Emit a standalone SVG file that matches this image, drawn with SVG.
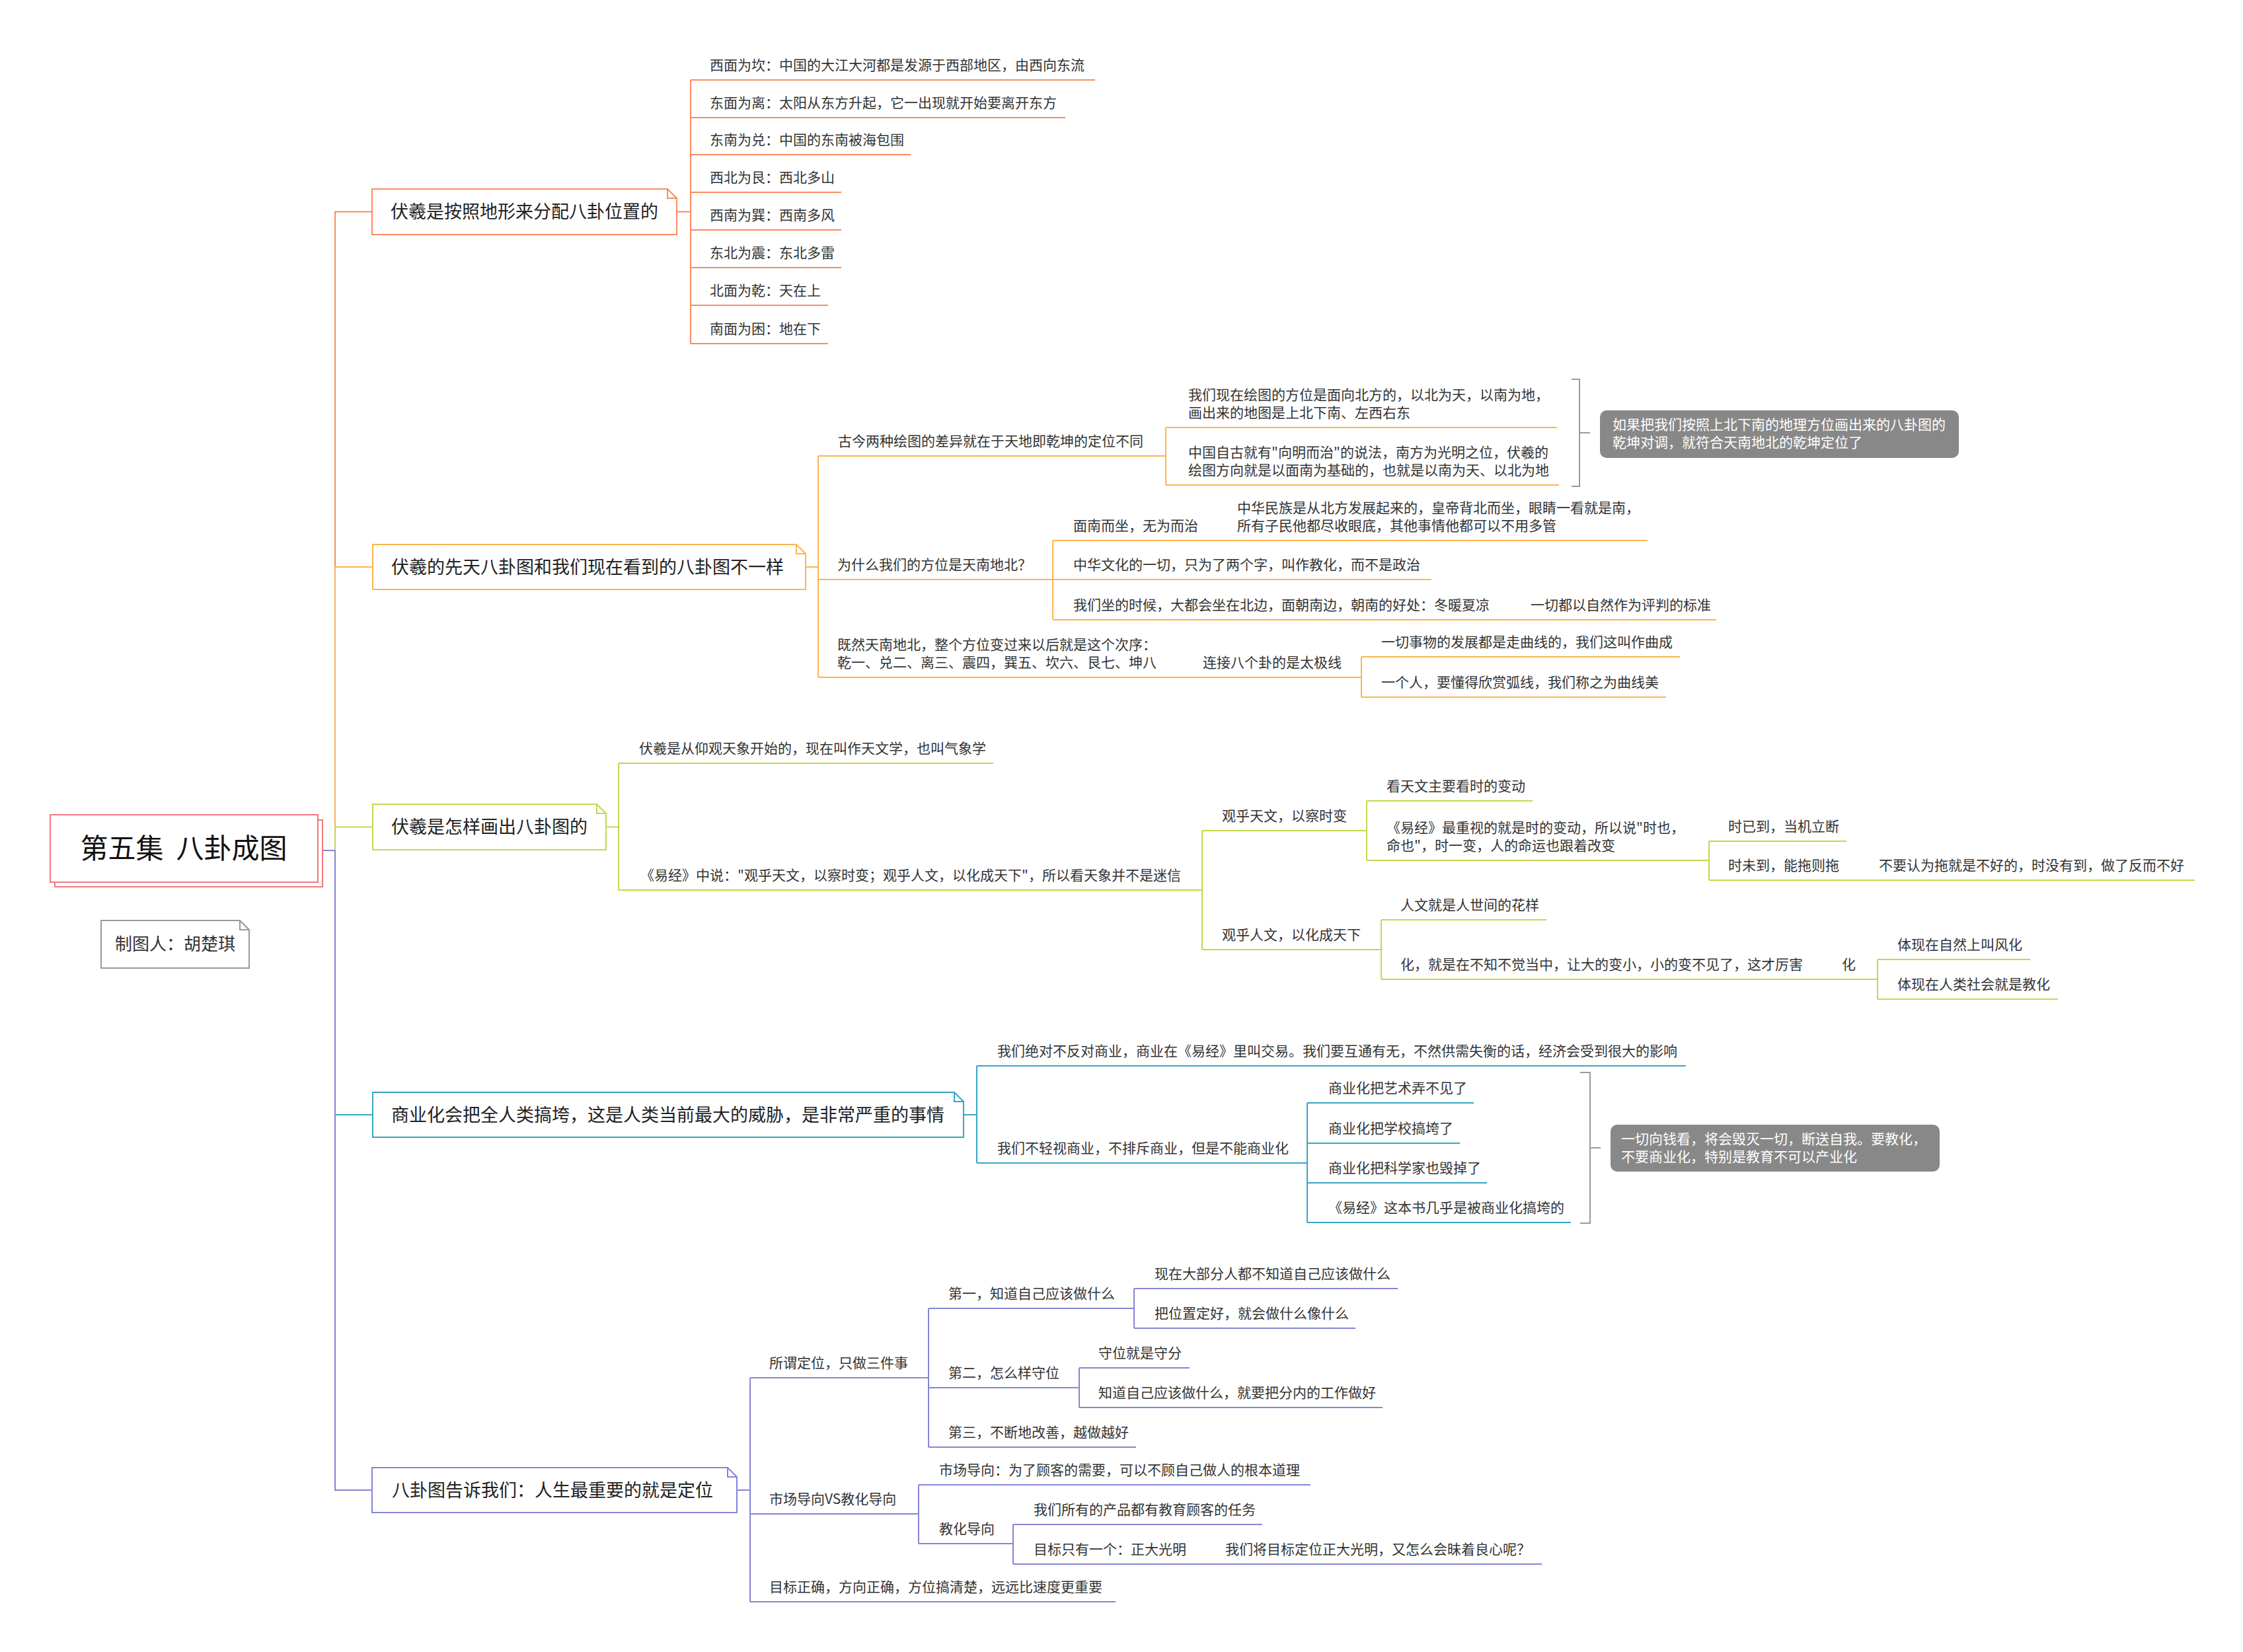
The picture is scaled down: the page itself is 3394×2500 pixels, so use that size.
<svg xmlns="http://www.w3.org/2000/svg" width="3394" height="2500" viewBox="0 0 3394 2500">
<style>
text{font-family:"Noto Sans CJK SC","Noto Sans",sans-serif;fill:#333;font-size:21px}
.n{font-size:27px;fill:#222}
.r{font-size:42px;fill:#111}
.a{font-size:26px}
.w{fill:#fff}
.u1,.u2,.u3,.u4,.u5,.br{fill:none;stroke-width:2}
.u1{stroke:#F98B60}.u2{stroke:#FDB54F}.u3{stroke:#C5D64E}.u4{stroke:#37A5C3}.u5{stroke:#8585D6}
.br{stroke:#9a9a9a}
.box{fill:#fff;stroke-width:2}
.call{fill:#888}
</style>
<rect width="3394" height="2500" fill="#fff"/>

<g id="connectors">
<path class="u1" d="M488,1287 H507 V320.5 H563"/>
<path class="u2" d="M488,1287 H507 V858 H564"/>
<path class="u3" d="M488,1287 H507 V1251.5 H564"/>
<path class="u4" d="M488,1287 H507 V1687 H564"/>
<path class="u5" d="M488,1287 H507 V2255 H563"/>
<path class="u1" d="M1024,320.5 H1045 M1045,121 V520"/>
<path class="u2" d="M1219,858 H1238 M1238,690 V1025 M1764,647 V734 M1593,818 V938 M2060,994 V1055"/>
<path class="u3" d="M917,1251.5 H936 M936,1155 V1347 M1819,1257 V1437 M2068,1212 V1302 M2586,1273 V1332 M2090,1392 V1482 M2841,1452 V1512"/>
<path class="u4" d="M1458,1687 H1478 M1478,1613 V1760 M1978,1669 V1850"/>
<path class="u5" d="M1115,2255 H1135 M1135,2085 V2424 M1405,1980 V2190 M1716,1950 V2010 M1633,2070 V2130 M1390,2247 V2336 M1533,2307 V2367"/>
<path class="br" d="M2378,574 H2390 V736 H2378 M2390,655 H2406"/>
<path class="br" d="M2391,1623 H2406 V1851 H2391 M2406,1737 H2422"/>
</g>

<g id="root">
<rect x="83" y="1241" width="405" height="101" class="box" stroke="#F2787E"/>
<rect x="76" y="1233" width="405" height="102" class="box" stroke="#F2787E"/>
<text class="r" x="278" y="1299" text-anchor="middle" xml:space="preserve">第五集  八卦成图</text>
</g>

<g id="author">
<path d="M153,1393 H363 L377,1407 V1465 H153 Z M363,1393 V1407 H377" fill="#fff" stroke="#999" stroke-width="2"/>
<text class="a" x="265" y="1438" text-anchor="middle">制图人：胡楚琪</text>
</g>

<!-- Branch 1 -->
<g id="b1">
<path class="box" stroke="#F98B60" d="M563,286 H1010 L1024,300 V355 H563 Z M1010,286 V300 H1024"/>
<text class="n" x="591" y="330">伏羲是按照地形来分配八卦位置的</text>
</g>
<g id="b1-1"><text x="1074" y="106">西面为坎：中国的大江大河都是发源于西部地区，由西向东流</text><path class="u1" d="M1045,121 H1657"/></g>
<g id="b1-2"><text x="1074" y="163">东面为离：太阳从东方升起，它一出现就开始要离开东方</text><path class="u1" d="M1045,178 H1612"/></g>
<g id="b1-3"><text x="1074" y="219">东南为兑：中国的东南被海包围</text><path class="u1" d="M1045,234 H1378"/></g>
<g id="b1-4"><text x="1074" y="276">西北为艮：西北多山</text><path class="u1" d="M1045,291 H1273"/></g>
<g id="b1-5"><text x="1074" y="333">西南为巽：西南多风</text><path class="u1" d="M1045,348 H1273"/></g>
<g id="b1-6"><text x="1074" y="390">东北为震：东北多雷</text><path class="u1" d="M1045,405 H1273"/></g>
<g id="b1-7"><text x="1074" y="447">北面为乾：天在上</text><path class="u1" d="M1045,462 H1253"/></g>
<g id="b1-8"><text x="1074" y="505">南面为困：地在下</text><path class="u1" d="M1045,520 H1253"/></g>

<!-- Branch 2 -->
<g id="b2">
<path class="box" stroke="#FDB54F" d="M564,824 H1205 L1219,838 V892 H564 Z M1205,824 V838 H1219"/>
<text class="n" x="592" y="868">伏羲的先天八卦图和我们现在看到的八卦图不一样</text>
</g>
<g id="b2-1"><text x="1268" y="675">古今两种绘图的差异就在于天地即乾坤的定位不同</text><path class="u2" d="M1238,690 H1764"/></g>
<g id="b2-1-1"><text x="1798" y="605">我们现在绘图的方位是面向北方的，以北为天，以南为地，<tspan x="1798" dy="27">画出来的地图是上北下南、左西右东</tspan></text><path class="u2" d="M1764,647 H2356"/></g>
<g id="b2-1-2"><text x="1798" y="692">中国自古就有"向明而治"的说法，南方为光明之位，伏羲的<tspan x="1798" dy="27">绘图方向就是以面南为基础的，也就是以南为天、以北为地</tspan></text><path class="u2" d="M1764,734 H2359"/></g>
<g id="b2-1-s"><rect class="call" x="2421" y="621" width="543" height="72" rx="10"/><text class="w" x="2440" y="650">如果把我们按照上北下南的地理方位画出来的八卦图的<tspan x="2440" dy="27">乾坤对调，就符合天南地北的乾坤定位了</tspan></text></g>
<g id="b2-2"><text x="1267" y="862">为什么我们的方位是天南地北？</text><path class="u2" d="M1238,877 H1593"/></g>
<g id="b2-2-1"><text x="1624" y="803">面南而坐，无为而治</text><path class="u2" d="M1593,818 H1860"/></g>
<g id="b2-2-1-1"><text x="1872" y="776">中华民族是从北方发展起来的，皇帝背北而坐，眼睛一看就是南，<tspan x="1872" dy="27">所有子民他都尽收眼底，其他事情他都可以不用多管</tspan></text><path class="u2" d="M1860,818 H2493"/></g>
<g id="b2-2-2"><text x="1624" y="862">中华文化的一切，只为了两个字，叫作教化，而不是政治</text><path class="u2" d="M1593,877 H2166"/></g>
<g id="b2-2-3"><text x="1624" y="923">我们坐的时候，大都会坐在北边，面朝南边，朝南的好处：冬暖夏凉</text><path class="u2" d="M1593,938 H2290"/></g>
<g id="b2-2-3-1"><text x="2316" y="923">一切都以自然作为评判的标准</text><path class="u2" d="M2290,938 H2597"/></g>
<g id="b2-3"><text x="1267" y="983">既然天南地北，整个方位变过来以后就是这个次序：<tspan x="1267" dy="27">乾一、兑二、离三、震四，巽五、坎六、艮七、坤八</tspan></text><path class="u2" d="M1238,1025 H1795"/></g>
<g id="b2-3-1"><text x="1820" y="1010">连接八个卦的是太极线</text><path class="u2" d="M1795,1025 H2060"/></g>
<g id="b2-3-1-1"><text x="2090" y="979">一切事物的发展都是走曲线的，我们这叫作曲成</text><path class="u2" d="M2060,994 H2542"/></g>
<g id="b2-3-1-2"><text x="2090" y="1040">一个人，要懂得欣赏弧线，我们称之为曲线美</text><path class="u2" d="M2060,1055 H2521"/></g>

<!-- Branch 3 -->
<g id="b3">
<path class="box" stroke="#C5D64E" d="M564,1217 H903 L917,1231 V1286 H564 Z M903,1217 V1231 H917"/>
<text class="n" x="592" y="1261">伏羲是怎样画出八卦图的</text>
</g>
<g id="b3-1"><text x="967" y="1140">伏羲是从仰观天象开始的，现在叫作天文学，也叫气象学</text><path class="u3" d="M936,1155 H1503"/></g>
<g id="b3-2"><text x="969" y="1332">《易经》中说："观乎天文，以察时变；观乎人文，以化成天下"，所以看天象并不是迷信</text><path class="u3" d="M936,1347 H1819"/></g>
<g id="b3-2-1"><text x="1849" y="1242">观乎天文，以察时变</text><path class="u3" d="M1819,1257 H2068"/></g>
<g id="b3-2-1-1"><text x="2098" y="1197">看天文主要看时的变动</text><path class="u3" d="M2068,1212 H2319"/></g>
<g id="b3-2-1-2"><text x="2098" y="1260">《易经》最重视的就是时的变动，所以说"时也，<tspan x="2098" dy="27">命也"，时一变，人的命运也跟着改变</tspan></text><path class="u3" d="M2068,1302 H2586"/></g>
<g id="b3-2-1-2-1"><text x="2615" y="1258">时已到，当机立断</text><path class="u3" d="M2586,1273 H2794"/></g>
<g id="b3-2-1-2-2"><text x="2615" y="1317">时未到，能拖则拖</text><path class="u3" d="M2586,1332 H2820"/></g>
<g id="b3-2-1-2-2-1"><text x="2843" y="1317">不要认为拖就是不好的，时没有到，做了反而不好</text><path class="u3" d="M2820,1332 H3321"/></g>
<g id="b3-2-2"><text x="1849" y="1422">观乎人文，以化成天下</text><path class="u3" d="M1819,1437 H2090"/></g>
<g id="b3-2-2-1"><text x="2119" y="1377">人文就是人世间的花样</text><path class="u3" d="M2090,1392 H2340"/></g>
<g id="b3-2-2-2"><text x="2119" y="1467">化，就是在不知不觉当中，让大的变小，小的变不见了，这才厉害</text><path class="u3" d="M2090,1482 H2765"/></g>
<g id="b3-2-2-2-1"><text x="2787" y="1467">化</text><path class="u3" d="M2765,1482 H2841"/></g>
<g id="b3-2-2-2-1-1"><text x="2871" y="1437">体现在自然上叫风化</text><path class="u3" d="M2841,1452 H3072"/></g>
<g id="b3-2-2-2-1-2"><text x="2871" y="1497">体现在人类社会就是教化</text><path class="u3" d="M2841,1512 H3114"/></g>

<!-- Branch 4 -->
<g id="b4">
<path class="box" stroke="#37A5C3" d="M564,1653 H1444 L1458,1667 V1721 H564 Z M1444,1653 V1667 H1458"/>
<text class="n" x="592" y="1697">商业化会把全人类搞垮，这是人类当前最大的威胁，是非常严重的事情</text>
</g>
<g id="b4-1"><text x="1509" y="1598">我们绝对不反对商业，商业在《易经》里叫交易。我们要互通有无，不然供需失衡的话，经济会受到很大的影响</text><path class="u4" d="M1478,1613 H2551"/></g>
<g id="b4-2"><text x="1509" y="1745">我们不轻视商业，不排斥商业，但是不能商业化</text><path class="u4" d="M1478,1760 H1978"/></g>
<g id="b4-2-1"><text x="2010" y="1654">商业化把艺术弄不见了</text><path class="u4" d="M1978,1669 H2230"/></g>
<g id="b4-2-2"><text x="2010" y="1715">商业化把学校搞垮了</text><path class="u4" d="M1978,1730 H2209"/></g>
<g id="b4-2-3"><text x="2010" y="1775">商业化把科学家也毁掉了</text><path class="u4" d="M1978,1790 H2250"/></g>
<g id="b4-2-4"><text x="2010" y="1835">《易经》这本书几乎是被商业化搞垮的</text><path class="u4" d="M1978,1850 H2377"/></g>
<g id="b4-2-s"><rect class="call" x="2437" y="1702" width="498" height="71" rx="10"/><text class="w" x="2453" y="1731">一切向钱看，将会毁灭一切，断送自我。要教化，<tspan x="2453" dy="27">不要商业化，特别是教育不可以产业化</tspan></text></g>

<!-- Branch 5 -->
<g id="b5">
<path class="box" stroke="#8585D6" d="M563,2221 H1101 L1115,2235 V2289 H563 Z M1101,2221 V2235 H1115"/>
<text class="n" x="593" y="2265">八卦图告诉我们：人生最重要的就是定位</text>
</g>
<g id="b5-1"><text x="1164" y="2070">所谓定位，只做三件事</text><path class="u5" d="M1135,2085 H1405"/></g>
<g id="b5-1-1"><text x="1435" y="1965">第一，知道自己应该做什么</text><path class="u5" d="M1405,1980 H1716"/></g>
<g id="b5-1-1-1"><text x="1747" y="1935">现在大部分人都不知道自己应该做什么</text><path class="u5" d="M1716,1950 H2115"/></g>
<g id="b5-1-1-2"><text x="1747" y="1995">把位置定好，就会做什么像什么</text><path class="u5" d="M1716,2010 H2051"/></g>
<g id="b5-1-2"><text x="1435" y="2085">第二，怎么样守位</text><path class="u5" d="M1405,2100 H1633"/></g>
<g id="b5-1-2-1"><text x="1662" y="2055">守位就是守分</text><path class="u5" d="M1633,2070 H1800"/></g>
<g id="b5-1-2-2"><text x="1662" y="2115">知道自己应该做什么，就要把分内的工作做好</text><path class="u5" d="M1633,2130 H2092"/></g>
<g id="b5-1-3"><text x="1435" y="2175">第三，不断地改善，越做越好</text><path class="u5" d="M1405,2190 H1719"/></g>
<g id="b5-2"><text x="1164" y="2276">市场导向VS教化导向</text><path class="u5" d="M1135,2291 H1390"/></g>
<g id="b5-2-1"><text x="1421" y="2232">市场导向：为了顾客的需要，可以不顾自己做人的根本道理</text><path class="u5" d="M1390,2247 H1983"/></g>
<g id="b5-2-2"><text x="1421" y="2321">教化导向</text><path class="u5" d="M1390,2336 H1533"/></g>
<g id="b5-2-2-1"><text x="1564" y="2292">我们所有的产品都有教育顾客的任务</text><path class="u5" d="M1533,2307 H1910"/></g>
<g id="b5-2-2-2"><text x="1564" y="2352">目标只有一个：正大光明</text><path class="u5" d="M1533,2367 H1830"/></g>
<g id="b5-2-2-2-1"><text x="1854" y="2352">我们将目标定位正大光明，又怎么会昧着良心呢？</text><path class="u5" d="M1830,2367 H2333"/></g>
<g id="b5-3"><text x="1164" y="2409">目标正确，方向正确，方位搞清楚，远远比速度更重要</text><path class="u5" d="M1135,2424 H1688"/></g>
</svg>
